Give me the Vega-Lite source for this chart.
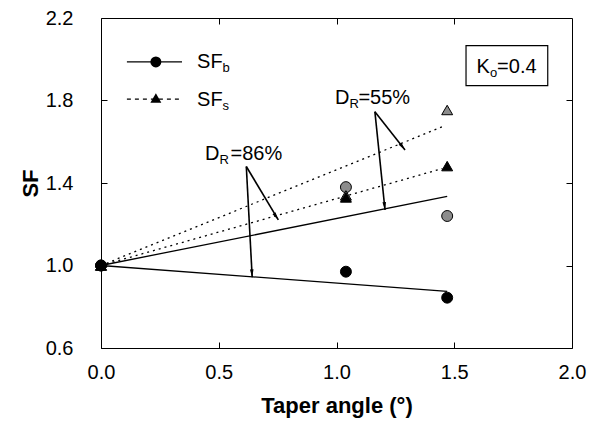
{
  "$schema": "https://vega.github.io/schema/vega-lite/v6.json",
  "width": 471,
  "height": 330,
  "autosize": {"type": "none"},
  "padding": {"left": 101, "top": 18, "right": 26, "bottom": 84},
  "background": "white",
  "config": {
    "view": {"stroke": "black", "strokeWidth": 1},
    "font": "Liberation Sans",
    "axis": {"domain": false, "grid": false, "tickColor": "black", "labelColor": "black", "titleColor": "black", "labelFont": "Liberation Sans", "titleFont": "Liberation Sans"}
  },
  "datasets": {
    "points": [
      {"var": "SFb", "DR": "55", "ang": 0, "sf": 1.0},
      {"var": "SFb", "DR": "55", "ang": 1.04, "sf": 1.38},
      {"var": "SFb", "DR": "55", "ang": 1.47, "sf": 1.24},
      {"var": "SFs", "DR": "55", "ang": 0, "sf": 1.0},
      {"var": "SFs", "DR": "55", "ang": 1.04, "sf": 1.34},
      {"var": "SFs", "DR": "55", "ang": 1.47, "sf": 1.754},
      {"var": "SFs", "DR": "86", "ang": 0, "sf": 1.0},
      {"var": "SFs", "DR": "86", "ang": 1.04, "sf": 1.33},
      {"var": "SFs", "DR": "86", "ang": 1.47, "sf": 1.482},
      {"var": "SFb", "DR": "86", "ang": 0, "sf": 1.0},
      {"var": "SFb", "DR": "86", "ang": 1.04, "sf": 0.97},
      {"var": "SFb", "DR": "86", "ang": 1.47, "sf": 0.844}
    ],
    "trends": [
      {"var": "SFb", "DR": "86", "ang": 0, "sf": 1.0},
      {"var": "SFb", "DR": "86", "ang": 1.47, "sf": 0.875},
      {"var": "SFb", "DR": "55", "ang": 0, "sf": 1.0},
      {"var": "SFb", "DR": "55", "ang": 1.47, "sf": 1.335},
      {"var": "SFs", "DR": "86", "ang": 0, "sf": 1.0},
      {"var": "SFs", "DR": "86", "ang": 1.45, "sf": 1.47},
      {"var": "SFs", "DR": "55", "ang": 0, "sf": 1.0},
      {"var": "SFs", "DR": "55", "ang": 1.45, "sf": 1.673}
    ],
    "arrows": [
      {"arrow": "a", "ang": 0.617, "sf": 1.48},
      {"arrow": "a", "ang": 0.642, "sf": 0.943},
      {"arrow": "b", "ang": 0.617, "sf": 1.48},
      {"arrow": "b", "ang": 0.753, "sf": 1.221},
      {"arrow": "c", "ang": 1.163, "sf": 1.746},
      {"arrow": "c", "ang": 1.291, "sf": 1.56},
      {"arrow": "d", "ang": 1.163, "sf": 1.746},
      {"arrow": "d", "ang": 1.206, "sf": 1.269}
    ],
    "tips": [
      {"arrow": "a", "ang": 0.642, "sf": 0.943},
      {"arrow": "b", "ang": 0.753, "sf": 1.221},
      {"arrow": "c", "ang": 1.291, "sf": 1.56},
      {"arrow": "d", "ang": 1.206, "sf": 1.269}
    ],
    "legendLines": [
      {"var": "SFb", "ang": 0.11, "sf": 1.987},
      {"var": "SFb", "ang": 0.344, "sf": 1.987},
      {"var": "SFs", "ang": 0.11, "sf": 1.807},
      {"var": "SFs", "ang": 0.344, "sf": 1.807}
    ],
    "legendSymbols": [
      {"var": "SFb", "ang": 0.233, "sf": 1.987},
      {"var": "SFs", "ang": 0.233, "sf": 1.812}
    ],
    "box": [{"ang": 1.55, "ang2": 1.897, "sf": 2.066, "sf2": 1.872}],
    "mainText": [
      {"ang": 0.408, "sf": 1.956, "txt": "SF"},
      {"ang": 0.408, "sf": 1.773, "txt": "SF"},
      {"ang": 0.442, "sf": 1.512, "txt": "D"},
      {"ang": 0.55, "sf": 1.512, "txt": "=86%"},
      {"ang": 0.994, "sf": 1.783, "txt": "D"},
      {"ang": 1.093, "sf": 1.783, "txt": "=55%"},
      {"ang": 1.595, "sf": 1.932, "txt": "K"},
      {"ang": 1.682, "sf": 1.932, "txt": "=0.4"}
    ],
    "subText": [
      {"ang": 0.516, "sf": 1.956, "txt": "b"},
      {"ang": 0.516, "sf": 1.773, "txt": "s"},
      {"ang": 0.503, "sf": 1.512, "txt": "R"},
      {"ang": 1.055, "sf": 1.783, "txt": "R"},
      {"ang": 1.652, "sf": 1.932, "txt": "o"}
    ]
  },
  "layer": [
    {
      "encoding": {
        "x": {"field": "ang", "type": "quantitative", "scale": {"domain": [0, 2], "nice": false, "zero": false},
          "axis": {"values": [0, 0.5, 1, 1.5, 2], "format": ".1f", "tickSize": -6, "labelFontSize": 20, "labelPadding": 20, "labelFlush": false, "labelOverlap": false,
            "title": "Taper angle (°)", "titleFontSize": 22, "titleFontWeight": "bold", "titlePadding": 13}},
        "y": {"field": "sf", "type": "quantitative", "scale": {"domain": [0.6, 2.2], "nice": false, "zero": false},
          "axis": {"values": [0.6, 1.0, 1.4, 1.8, 2.2], "format": ".1f", "tickSize": -6, "labelFontSize": 20, "labelPadding": 34, "labelFlush": false, "labelOverlap": false,
            "title": "SF", "titleFontSize": 22, "titleFontWeight": "bold", "titlePadding": 3}}
      },
      "layer": [
        {"data": {"name": "trends"}, "transform": [{"filter": "datum.var == 'SFb'"}],
          "mark": {"type": "line", "color": "black", "strokeWidth": 1.3},
          "encoding": {"detail": {"field": "DR"}}},
        {"data": {"name": "trends"}, "transform": [{"filter": "datum.var == 'SFs'"}],
          "mark": {"type": "line", "color": "black", "strokeWidth": 1.3, "strokeDash": [2, 4]},
          "encoding": {"detail": {"field": "DR"}}},
        {"data": {"name": "arrows"},
          "mark": {"type": "line", "color": "black", "strokeWidth": 1.6},
          "encoding": {"detail": {"field": "arrow"}}},
        {"data": {"name": "tips"}, "transform": [{"filter": "datum.arrow == 'a'"}],
          "mark": {"type": "point", "shape": "M0,0L0.45,2L-0.45,2Z", "filled": true, "color": "black", "opacity": 1, "size": 64, "angle": 176.6}},
        {"data": {"name": "tips"}, "transform": [{"filter": "datum.arrow == 'b'"}],
          "mark": {"type": "point", "shape": "M0,0L0.45,2L-0.45,2Z", "filled": true, "color": "black", "opacity": 1, "size": 64, "angle": 147.1}},
        {"data": {"name": "tips"}, "transform": [{"filter": "datum.arrow == 'c'"}],
          "mark": {"type": "point", "shape": "M0,0L0.45,2L-0.45,2Z", "filled": true, "color": "black", "opacity": 1, "size": 64, "angle": 141.9}},
        {"data": {"name": "tips"}, "transform": [{"filter": "datum.arrow == 'd'"}],
          "mark": {"type": "point", "shape": "M0,0L0.45,2L-0.45,2Z", "filled": true, "color": "black", "opacity": 1, "size": 64, "angle": 174.2}},
        {"data": {"name": "points"},
          "mark": {"type": "point", "filled": true, "stroke": "black", "strokeWidth": 1, "opacity": 1, "size": 120},
          "encoding": {
            "fill": {"field": "DR", "type": "nominal", "scale": {"domain": ["86", "55"], "range": ["black", "#8c8c8c"]}, "legend": null},
            "shape": {"field": "var", "type": "nominal", "scale": {"domain": ["SFb", "SFs"], "range": ["circle", "triangle-up"]}, "legend": null},
            "order": {"field": "DR", "sort": "ascending"}
          }},
        {"data": {"name": "legendLines"}, "transform": [{"filter": "datum.var == 'SFb'"}],
          "mark": {"type": "line", "color": "black", "strokeWidth": 1.3}, "encoding": {}},
        {"data": {"name": "legendLines"}, "transform": [{"filter": "datum.var == 'SFs'"}],
          "mark": {"type": "line", "color": "black", "strokeWidth": 1.3, "strokeDash": [4, 4]}, "encoding": {}},
        {"data": {"name": "legendSymbols"},
          "mark": {"type": "point", "filled": true, "color": "black", "opacity": 1, "size": 120},
          "encoding": {"shape": {"field": "var", "type": "nominal", "legend": null}}},
        {"data": {"name": "box"},
          "mark": {"type": "rect", "fill": "white", "stroke": "black", "strokeWidth": 1.2},
          "encoding": {"x": {"field": "ang", "type": "quantitative"}, "x2": {"field": "ang2"}, "y": {"field": "sf", "type": "quantitative"}, "y2": {"field": "sf2"}}},
        {"data": {"name": "mainText"},
          "mark": {"type": "text", "align": "left", "baseline": "alphabetic", "fontSize": 20, "color": "black", "font": "Liberation Sans"},
          "encoding": {"text": {"field": "txt"}}},
        {"data": {"name": "subText"},
          "mark": {"type": "text", "align": "left", "baseline": "alphabetic", "fontSize": 13, "dy": 4, "color": "black", "font": "Liberation Sans"},
          "encoding": {"text": {"field": "txt"}}}
      ]
    },
    {
      "data": {"values": [{"ang": 0, "sf": 0.6}]},
      "mark": {"type": "point", "opacity": 0},
      "encoding": {
        "x": {"field": "ang", "type": "quantitative", "scale": {"domain": [0, 2], "nice": false, "zero": false},
          "axis": {"orient": "top", "values": [0.5, 1, 1.5], "tickSize": -6, "labels": false, "title": null}},
        "y": {"field": "sf", "type": "quantitative", "scale": {"domain": [0.6, 2.2], "nice": false, "zero": false},
          "axis": {"orient": "right", "values": [1.0, 1.4, 1.8], "tickSize": -6, "labels": false, "title": null}}
      }
    }
  ],
  "resolve": {"axis": {"x": "independent", "y": "independent"}}
}
